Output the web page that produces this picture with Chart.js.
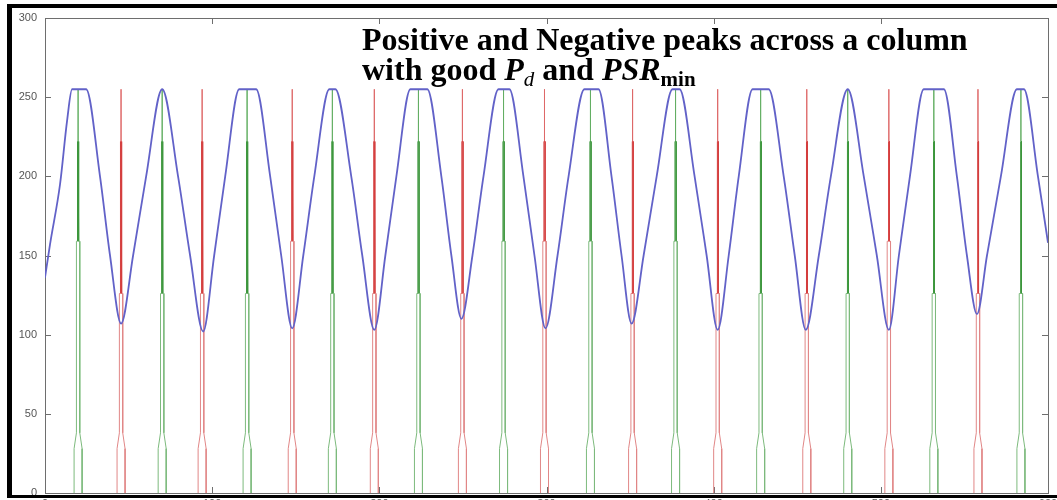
<!DOCTYPE html>
<html><head><meta charset="utf-8">
<script src="https://cdn.jsdelivr.net/npm/chart.js@4.4.1/dist/chart.umd.min.js"></script>
<style>
html,body{margin:0;padding:0;background:#fff;overflow:hidden;}
#wrap{position:relative;width:1057px;height:520px;}
</style></head><body>
<div id="wrap"><canvas id="c" width="1057" height="520"></canvas></div>
<script>
// ---- data ----
const xTicks = [0, 100, 200, 300, 400, 500, 600];
const yTicks = [0, 50, 100, 150, 200, 250, 300];

// blue trace (column intensity profile)
const blueX = [0, 3.0, 9.0, 13.2, 16.2, 24.6, 32.9, 38.9, 45.5, 52.7, 60.5, 70.1, 79.6, 86.8, 94.6,
  101.2, 107.8, 116.2, 126.3, 134.7, 141.3, 147.9, 154.5, 161.1, 170.1, 173.7, 183.2, 189.8, 197.0,
  203.6, 210.2, 218.6, 228.7, 237.1, 243.1, 249.1, 255.7, 262.3, 271.3, 277.8, 286.2, 292.8, 299.4,
  306.6, 313.2, 322.7, 331.1, 338.9, 344.9, 350.9, 358.1, 365.9, 375.4, 379.6, 388.6, 395.8, 402.4,
  409.0, 415.0, 423.3, 432.9, 441.9, 448.5, 455.1, 462.9, 470.1, 480.2, 489.8, 497.6, 504.8, 510.8,
  517.4, 525.7, 537.7, 545.5, 551.5, 557.5, 563.5, 571.8, 581.4, 585.6, 594.0, 600];
const blueY = [136, 157, 195, 235, 255, 255, 200, 150, 107, 150, 200, 255, 200, 150, 102,
  150, 200, 255, 255, 200, 150, 104, 150, 200, 255, 255, 200, 150, 103,
  150, 200, 255, 255, 200, 150, 110, 150, 200, 255, 255, 200, 150, 104,
  150, 200, 255, 255, 200, 150, 107, 150, 200, 255, 255, 200, 150, 103,
  150, 200, 255, 255, 200, 150, 103, 150, 200, 255, 200, 150, 103, 150,
  200, 255, 255, 200, 150, 113, 150, 200, 255, 255, 200, 158];

// positive peaks (green) and negative peaks (red)
const greenCenters = [19.8, 70.1, 120.9, 171.9, 223.4, 274.3, 326.3, 377.2, 428.1, 480.2, 531.7, 583.8];
const greenMid     = [159, 126, 126, 126, 126, 159, 159, 159, 126, 126, 126, 126];
const redCenters   = [45.5, 94.0, 147.9, 197.0, 249.7, 298.8, 351.5, 402.4, 455.7, 504.8, 558.1];
const redMid       = [126, 126, 159, 126, 126, 159, 126, 126, 126, 159, 126];

// shape of one peak marker (offset from centre, level; null = that peak's mid level)
const pulseDx    = [-2.4, -2.4, -1.0, -1.0, -0.35, -0.35, 0, 0, 0, 0.35, 0.35, 1.0, 1.0, 2.4, 2.4];
const pulseLevel = [0, 28, 38, null, null, 222, 222, 255, 222, 222, null, null, 38, 28, 0];

const titleLine1 = 'Positive and Negative peaks across a column';
const titleLine2 = [
  {t: 'with good ', f: 'bold'},
  {t: 'P', f: 'italic bold'},
  {t: 'd', f: 'italic', sub: true},
  {t: ' and ', f: 'bold'},
  {t: 'PSR', f: 'italic bold'},
  {t: 'min', f: 'bold', sub: true}
];

// ---- build datasets ----
const STRIDE = pulseDx.length + 1;
function pulsePoints(centers, mids) {
  const pts = [];
  centers.forEach((c, k) => {
    pulseDx.forEach((dx, i) => {
      pts.push({x: c + dx, y: pulseLevel[i] === null ? mids[k] : pulseLevel[i]});
    });
    pts.push({x: c + 3, y: null});
  });
  return pts;
}
function segColor(light, dark, tip) {
  return ctx => {
    const i = ctx.p0DataIndex % STRIDE;
    if (i === 6 || i === 7) return tip;
    return (i <= 3 || i >= 10) ? light : dark;
  };
}

const frame = {
  id: 'frame',
  beforeDatasetsDraw(chart) {
    const c = chart.ctx, a = chart.chartArea;
    c.save();
    c.strokeStyle = '#6e6e6e';
    c.lineWidth = 1;
    c.strokeRect(Math.round(a.left) + 0.5, Math.round(a.top) + 0.5,
                 Math.round(a.right - a.left), Math.round(a.bottom - a.top));
    const xs = chart.scales.x, ys = chart.scales.y;
    c.beginPath();
    ys.ticks.forEach(t => {
      const y = Math.round(ys.getPixelForValue(t.value)) + 0.5;
      c.moveTo(a.left, y); c.lineTo(a.left + 6, y);
      c.moveTo(a.right, y); c.lineTo(a.right - 6, y);
    });
    xs.ticks.forEach(t => {
      const x = Math.round(xs.getPixelForValue(t.value)) + 0.5;
      c.moveTo(x, a.bottom); c.lineTo(x, a.bottom - 6);
      c.moveTo(x, a.top); c.lineTo(x, a.top + 6);
    });
    c.stroke();
    c.restore();
  },
  afterDraw(chart) {
    const c = chart.ctx;
    c.save();
    // title
    c.fillStyle = '#000';
    c.textBaseline = 'alphabetic';
    c.font = 'bold 32px "Liberation Serif"';
    c.fillText(titleLine1, 362, 50);
    let x = 362;
    titleLine2.forEach(s => {
      const size = s.sub ? 21 : 32;
      c.font = s.f + ' ' + size + 'px "Liberation Serif"';
      c.fillText(s.t, x, s.sub ? 86 : 80);
      x += c.measureText(s.t).width;
    });
    // black picture frame
    c.fillStyle = '#000';
    c.fillRect(7, 4, 1050, 4);
    c.fillRect(7, 4, 5, 494);
    c.fillRect(7, 495, 1050, 3);
    c.restore();
  }
};

new Chart(document.getElementById('c'), {
  type: 'line',
  data: {
    datasets: [
      {
        label: 'profile',
        data: blueX.map((x, i) => ({x, y: blueY[i]})),
        borderColor: 'rgb(98,98,200)',
        borderWidth: 1.8,
        pointRadius: 0,
        cubicInterpolationMode: 'monotone',
        order: 0
      },
      {
        label: 'positive peaks',
        data: pulsePoints(greenCenters, greenMid),
        borderColor: 'rgb(70,155,70)',
        segment: {borderColor: segColor('rgb(125,186,125)', 'rgb(60,150,60)', 'rgb(100,175,100)')},
        borderWidth: 1,
        pointRadius: 0,
        spanGaps: false,
        order: 1
      },
      {
        label: 'negative peaks',
        data: pulsePoints(redCenters, redMid),
        borderColor: 'rgb(215,70,70)',
        segment: {borderColor: segColor('rgb(225,135,135)', 'rgb(212,62,62)', 'rgb(222,105,105)')},
        borderWidth: 1,
        pointRadius: 0,
        spanGaps: false,
        order: 2
      }
    ]
  },
  options: {
    responsive: false,
    devicePixelRatio: 1,
    animation: false,
    layout: {padding: {top: 18, left: 0, right: 9, bottom: 0}},
    plugins: {legend: {display: false}, tooltip: {enabled: false}},
    scales: {
      x: {
        type: 'linear', min: 0, max: 600,
        afterBuildTicks: s => { s.ticks = xTicks.map(v => ({value: v})); },
        ticks: {color: '#555', font: {family: 'Liberation Sans', size: 11}, padding: 4, maxRotation: 0, autoSkip: false},
        grid: {display: false, drawTicks: false},
        border: {display: false},
        afterFit: s => { s.height = 27; s.paddingLeft = 0; s.paddingRight = 0; }
      },
      y: {
        type: 'linear', min: 0, max: 300,
        afterBuildTicks: s => { s.ticks = yTicks.map(v => ({value: v})); },
        ticks: {color: '#555', font: {family: 'Liberation Sans', size: 11}, padding: 8},
        grid: {display: false, drawTicks: false},
        border: {display: false},
        afterFit: s => { s.width = 45; s.paddingTop = 0; s.paddingBottom = 0; }
      }
    }
  },
  plugins: [frame]
});
</script>
</body></html>
